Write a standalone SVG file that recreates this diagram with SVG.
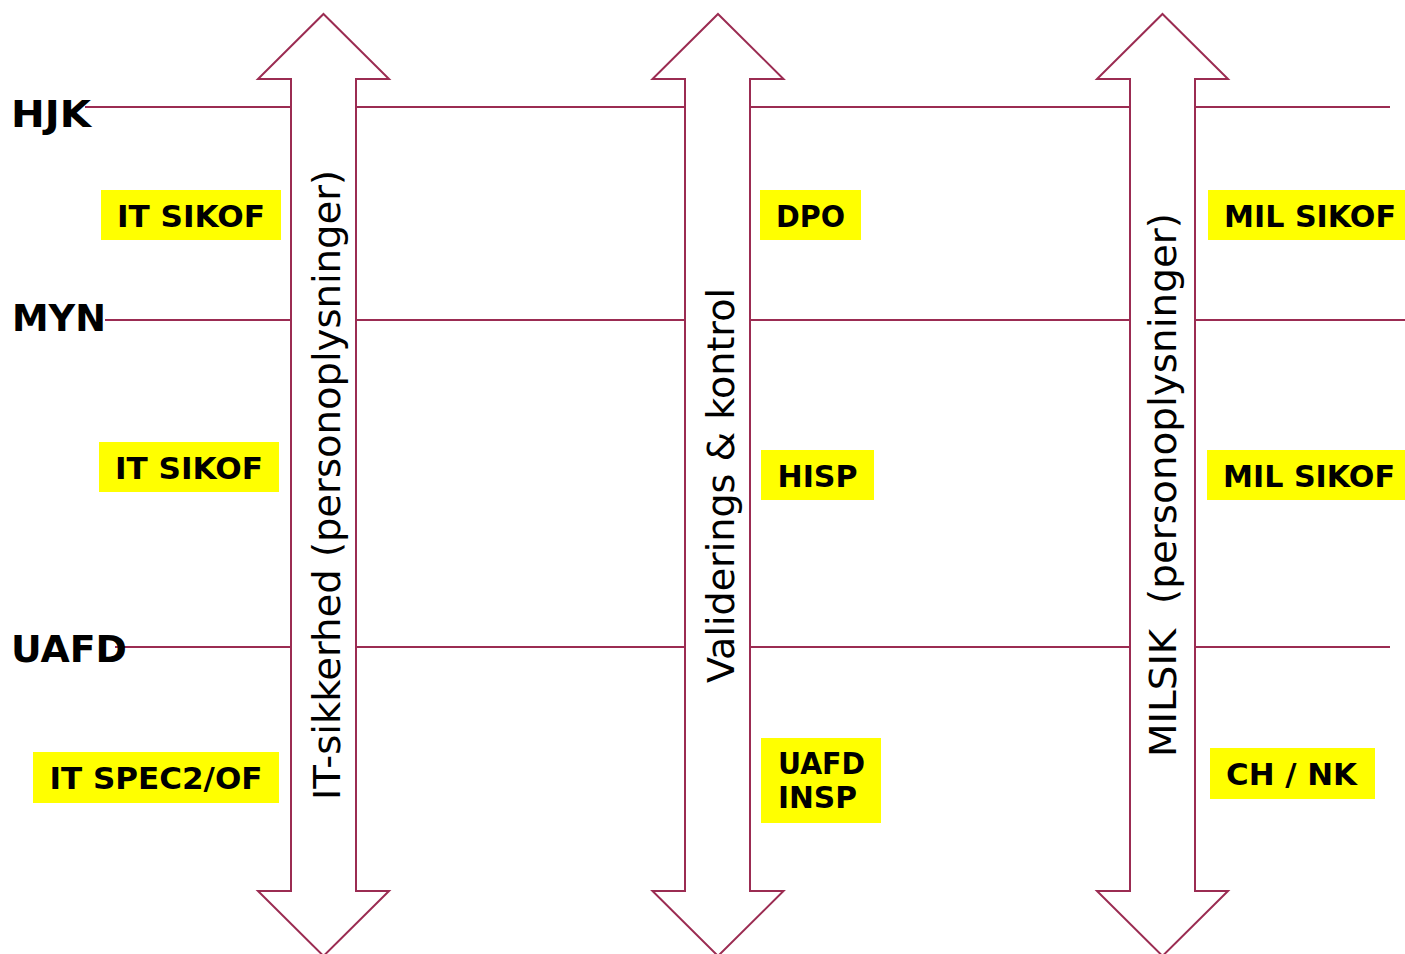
<svg xmlns="http://www.w3.org/2000/svg" width="1405" height="954" viewBox="0 0 1405 954">
<style>
.ln{stroke:#9B2C52;stroke-width:2;fill:none}
.arr{stroke:#9B2C52;stroke-width:2;fill:#fff;stroke-linejoin:miter}
.lvl{font-family:"DejaVu Sans",Verdana,sans-serif;font-weight:bold;font-size:37px;fill:#000}
.box{fill:#ffff00}
.bt{font-family:"DejaVu Sans",Verdana,sans-serif;font-weight:bold;font-size:30px;fill:#000;text-anchor:middle}
.bl{font-family:"DejaVu Sans",Verdana,sans-serif;font-weight:bold;font-size:30px;fill:#000}
.vt{font-family:"DejaVu Sans",Verdana,sans-serif;font-size:37px;fill:#000;white-space:pre}
</style>
<g id="connectors">
<line class="ln" x1="85" y1="107" x2="1390" y2="107"/>
<line class="ln" x1="105" y1="320" x2="1405" y2="320"/>
<line class="ln" x1="115" y1="647" x2="1390" y2="647"/>
</g>
<g id="levels">
<text class="lvl" x="11" y="127" textLength="80" lengthAdjust="spacingAndGlyphs">HJK</text>
<text class="lvl" x="12" y="331" textLength="94" lengthAdjust="spacingAndGlyphs">MYN</text>
<text class="lvl" x="11" y="662" textLength="116" lengthAdjust="spacingAndGlyphs">UAFD</text>
</g>
<g id="arrow-it">
<path class="arr" d="M323.5,14 L389,79 L356,79 L356,891 L389,891 L323.5,956 L258,891 L291,891 L291,79 L258,79 Z"/>
<text class="vt" transform="translate(340,800) rotate(-90)" textLength="630" lengthAdjust="spacingAndGlyphs">IT-sikkerhed (personoplysninger)</text>
</g>
<g id="arrow-val">
<path class="arr" d="M718,14 L783.5,79 L750,79 L750,891 L783.5,891 L718,956 L652.5,891 L685,891 L685,79 L652.5,79 Z"/>
<text class="vt" transform="translate(734,683) rotate(-90)" textLength="395" lengthAdjust="spacingAndGlyphs">Validerings &amp; kontrol</text>
</g>
<g id="arrow-mil">
<path class="arr" d="M1162.5,14 L1228,79 L1195,79 L1195,891 L1228,891 L1162.5,956 L1097,891 L1130,891 L1130,79 L1097,79 Z"/>
<text class="vt" transform="translate(1176,757) rotate(-90)" textLength="544" lengthAdjust="spacingAndGlyphs">MILSIK  (personoplysninger)</text>
</g>
<g id="it-sikof-1"><rect class="box" x="101" y="190" width="180" height="50"/><text class="bt" x="191" y="227" textLength="148" lengthAdjust="spacingAndGlyphs">IT SIKOF</text></g>
<g id="dpo"><rect class="box" x="760" y="190" width="101" height="50"/><text class="bt" x="810.5" y="227" textLength="69" lengthAdjust="spacingAndGlyphs">DPO</text></g>
<g id="mil-sikof-1"><rect class="box" x="1208" y="190" width="197" height="50"/><text class="bt" x="1310" y="227" textLength="172" lengthAdjust="spacingAndGlyphs">MIL SIKOF</text></g>
<g id="it-sikof-2"><rect class="box" x="99" y="442" width="180" height="50"/><text class="bt" x="189" y="479" textLength="148" lengthAdjust="spacingAndGlyphs">IT SIKOF</text></g>
<g id="hisp"><rect class="box" x="761" y="450" width="113" height="50"/><text class="bt" x="817.5" y="487" textLength="80" lengthAdjust="spacingAndGlyphs">HISP</text></g>
<g id="mil-sikof-2"><rect class="box" x="1207" y="450" width="198" height="50"/><text class="bt" x="1309" y="487" textLength="172" lengthAdjust="spacingAndGlyphs">MIL SIKOF</text></g>
<g id="it-spec2"><rect class="box" x="33" y="752" width="246" height="51"/><text class="bt" x="156" y="789" textLength="213" lengthAdjust="spacingAndGlyphs">IT SPEC2/OF</text></g>
<g id="uafd-insp"><rect class="box" x="761" y="738" width="120" height="85"/><text class="bl" x="778" y="774" textLength="87" lengthAdjust="spacingAndGlyphs">UAFD</text><text class="bl" x="778" y="808" textLength="79" lengthAdjust="spacingAndGlyphs">INSP</text></g>
<g id="ch-nk"><rect class="box" x="1210" y="748" width="165" height="51"/><text class="bt" x="1291.5" y="785" style="white-space:pre" textLength="131" lengthAdjust="spacingAndGlyphs">CH / NK</text></g>
</svg>
